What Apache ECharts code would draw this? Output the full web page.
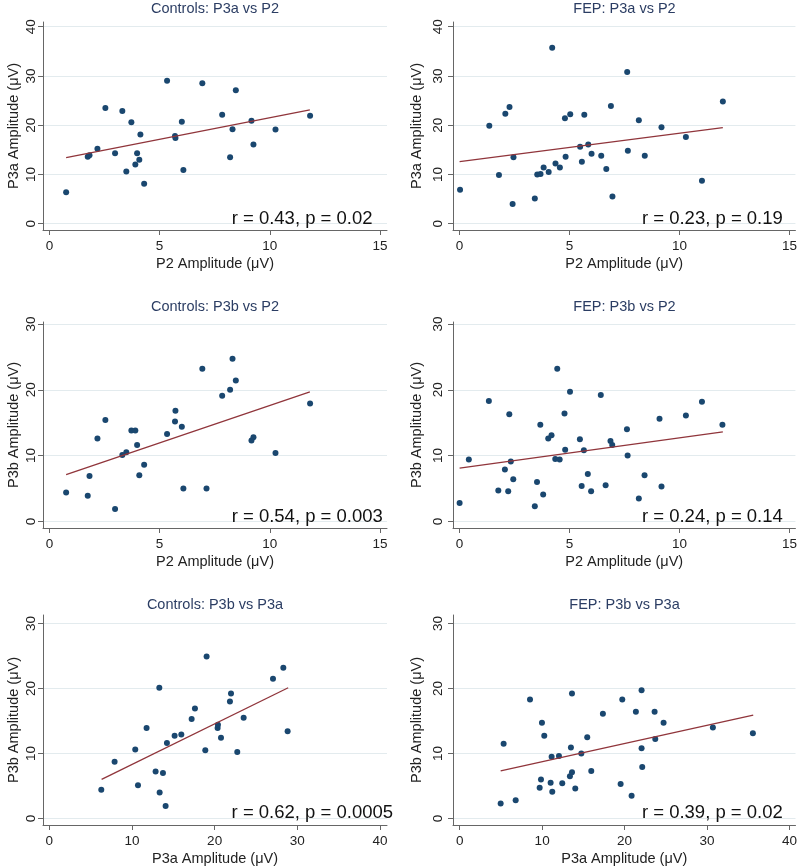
<!DOCTYPE html>
<html><head><meta charset="utf-8">
<script src="https://cdn.jsdelivr.net/npm/echarts@6/dist/echarts.min.js"></script>
<style>html,body{margin:0;padding:0;background:#fff}#c{width:800px;height:867px}</style>
</head><body><div id="c"></div>
<script>
// ---------- text ----------
const panelTitles = ['Controls: P3a vs P2', 'FEP: P3a vs P2', 'Controls: P3b vs P2', 'FEP: P3b vs P2', 'Controls: P3b vs P3a', 'FEP: P3b vs P3a'];
const xNames = ['P2 Amplitude (μV)', 'P2 Amplitude (μV)', 'P2 Amplitude (μV)', 'P2 Amplitude (μV)', 'P3a Amplitude (μV)', 'P3a Amplitude (μV)'];
const yNames = ['P3a Amplitude (μV)', 'P3a Amplitude (μV)', 'P3b Amplitude (μV)', 'P3b Amplitude (μV)', 'P3b Amplitude (μV)', 'P3b Amplitude (μV)'];
const statLabels = ['r = 0.43, p = 0.02', 'r = 0.23, p = 0.19', 'r = 0.54, p = 0.003', 'r = 0.24, p = 0.14', 'r = 0.62, p = 0.0005', 'r = 0.39, p = 0.02'];

// ---------- tick labels ----------
const ticksP2 = [0, 5, 10, 15];
const ticksP3aX = [0, 10, 20, 30, 40];
const ticksP3aY = [0, 10, 20, 30, 40];
const ticksP3bY = [0, 10, 20, 30];

// ---------- Controls: P3a vs P2 ----------
const ctrlP2_a  = [0.76, 1.74, 1.82, 2.18, 2.54, 2.98, 3.31, 3.49, 3.72, 3.98, 3.90, 4.08, 4.13, 4.30, 5.34, 5.70, 5.72, 6.01, 6.08, 6.94, 7.84, 8.20, 8.31, 8.46, 9.17, 9.26, 10.26, 11.83];
const ctrlP3a_a = [6.4, 13.6, 13.9, 15.2, 23.5, 14.3, 22.9, 10.6, 20.6, 14.3, 12.0, 13.0, 18.1, 8.1, 29.0, 17.8, 17.4, 20.7, 10.9, 28.5, 22.1, 13.5, 19.2, 27.1, 20.9, 16.1, 19.1, 21.9];
const fitCtrlP3aP2_x = [0.76, 11.82];
const fitCtrlP3aP2_y = [13.4, 23.1];

// ---------- FEP: P3a vs P2 ----------
const fepP2_a  = [0.02, 1.35, 1.79, 2.08, 2.27, 2.41, 2.45, 3.42, 3.53, 3.68, 3.82, 4.05, 4.21, 4.36, 4.56, 4.79, 4.82, 5.03, 5.48, 5.56, 5.67, 5.85, 6.00, 6.44, 6.67, 6.88, 6.95, 7.62, 7.65, 8.15, 8.42, 9.18, 10.29, 11.02, 11.97];
const fepP3a_a = [6.9, 19.9, 9.9, 22.3, 23.7, 4.0, 13.5, 5.1, 10.0, 10.1, 11.4, 10.5, 35.7, 12.2, 11.4, 21.4, 13.6, 22.2, 15.6, 12.6, 22.1, 16.1, 14.2, 13.8, 11.1, 23.9, 5.5, 30.8, 14.8, 21.0, 13.8, 19.6, 17.6, 8.7, 24.8];
const fitFepP3aP2_x = [0, 11.97];
const fitFepP3aP2_y = [12.6, 19.5];

// ---------- Controls: P3b vs P2 ----------
const ctrlP2_b  = [0.76, 1.74, 1.82, 2.18, 2.54, 2.98, 3.31, 3.49, 3.72, 3.90, 3.98, 4.08, 4.30, 5.34, 5.70, 5.72, 6.01, 6.08, 6.94, 7.13, 7.84, 8.20, 8.31, 8.46, 9.17, 9.26, 10.26, 11.83];
const ctrlP3b_b = [4.4, 3.9, 6.9, 12.6, 15.4, 1.9, 10.1, 10.5, 13.8, 13.8, 11.6, 7.0, 8.6, 13.3, 15.2, 16.8, 14.4, 5.0, 23.2, 5.0, 19.1, 20.0, 24.7, 21.4, 12.3, 12.8, 10.4, 17.9];
const fitCtrlP3bP2_x = [0.76, 11.82];
const fitCtrlP3bP2_y = [7.1, 19.7];

// ---------- FEP: P3b vs P2 ----------
const fepP2_b  = [0, 0.42, 1.33, 1.76, 2.06, 2.21, 2.26, 2.33, 2.44, 3.42, 3.52, 3.67, 3.80, 4.03, 4.18, 4.35, 4.44, 4.55, 4.77, 4.80, 5.02, 5.47, 5.55, 5.65, 5.83, 5.98, 6.42, 6.64, 6.86, 6.94, 7.61, 7.64, 8.15, 8.41, 9.09, 9.18, 10.29, 11.02, 11.95];
const fepP3b_b = [2.8, 9.4, 18.3, 4.7, 7.9, 4.6, 16.3, 9.1, 6.4, 2.3, 6.0, 14.7, 4.1, 12.6, 13.1, 9.5, 23.2, 9.4, 16.4, 10.9, 19.7, 12.5, 5.4, 10.8, 7.2, 4.6, 19.2, 5.5, 12.2, 11.6, 14.0, 10.0, 3.5, 7.0, 15.6, 5.3, 16.1, 18.2, 14.7];
const fitFepP3bP2_x = [0, 11.97];
const fitFepP3bP2_y = [8.1, 13.6];

// ---------- Controls: P3b vs P3a ----------
const ctrlP3a_c = [6.29, 7.90, 10.40, 10.73, 11.77, 12.86, 13.31, 13.35, 13.75, 14.07, 14.23, 15.16, 15.97, 17.22, 17.62, 18.87, 19.03, 20.36, 20.40, 20.77, 21.85, 21.98, 22.74, 23.51, 27.06, 28.31, 28.83];
const ctrlP3b_c = [4.4, 8.7, 10.6, 5.1, 13.9, 7.2, 20.1, 4.0, 7.0, 1.9, 11.6, 12.7, 12.9, 15.3, 16.9, 10.5, 24.9, 13.9, 14.4, 12.4, 18.0, 19.2, 10.2, 15.5, 21.5, 23.2, 13.4];
const fitCtrlP3bP3a_x = [6.33, 28.9];
const fitCtrlP3bP3a_y = [6.0, 20.1];

// ---------- FEP: P3b vs P3a ----------
const fepP3a_c = [4.97, 5.33, 6.79, 8.53, 9.70, 9.86, 9.98, 10.26, 11.03, 11.15, 11.23, 12.04, 12.44, 13.37, 13.49, 13.62, 13.62, 14.02, 14.75, 15.47, 15.96, 17.37, 19.52, 19.72, 20.85, 21.37, 22.06, 22.06, 22.14, 23.64, 23.72, 24.73, 30.71, 35.56];
const fepP3b_c = [2.3, 11.5, 2.8, 18.3, 4.7, 6.0, 14.7, 12.7, 5.5, 9.5, 4.1, 9.6, 5.4, 6.5, 10.9, 19.2, 7.1, 4.6, 10.0, 12.5, 7.3, 16.1, 5.3, 18.3, 3.5, 16.4, 19.7, 10.8, 7.9, 16.4, 12.2, 14.7, 14.0, 13.1];
const fitFepP3bP3a_x = [4.97, 35.6];
const fitFepP3bP3a_y = [7.3, 15.9];

// ---------- assembly ----------
const scatterX = [ctrlP2_a, fepP2_a, ctrlP2_b, fepP2_b, ctrlP3a_c, fepP3a_c];
const scatterY = [ctrlP3a_a, fepP3a_a, ctrlP3b_b, fepP3b_b, ctrlP3b_c, fepP3b_c];
const fitX = [fitCtrlP3aP2_x, fitFepP3aP2_x, fitCtrlP3bP2_x, fitFepP3bP2_x, fitCtrlP3bP3a_x, fitFepP3bP3a_x];
const fitY = [fitCtrlP3aP2_y, fitFepP3aP2_y, fitCtrlP3bP2_y, fitFepP3bP2_y, fitCtrlP3bP3a_y, fitFepP3bP3a_y];
const xTickSets = [ticksP2, ticksP2, ticksP2, ticksP2, ticksP3aX, ticksP3aX];
const yTickSets = [ticksP3aY, ticksP3aY, ticksP3bY, ticksP3bY, ticksP3bY, ticksP3bY];
const statAnchorX = [8.27, 8.29, 8.27, 8.29, 22.05, 22.1];

// layout (pixels) and axis extents
const colLeft = [43, 453], colWidth = [344, 343];
const rowTop = [22, 322, 615], rowHeight = [208, 206, 212];
const titleTop = [1, 299, 597];
const xExt = [[-0.29, 15.32], [-0.3, 15.27], [-0.29, 15.32], [-0.3, 15.27], [-0.76, 40.85], [-0.81, 40.73]];
const yExt = [[-1.28, 40.95], [-1.28, 40.95], [-1.0, 30.3], [-1.0, 30.3], [-1.02, 31.3], [-1.02, 31.3]];

const FONT = '"Liberation Sans", Arial, Helvetica, sans-serif';
const AXIS_COL = '#666666';
const grids = [], xAxes = [], yAxes = [], series = [], titles = [];
for (let i = 0; i < 6; i++) {
  const col = i % 2, row = Math.floor(i / 2);
  grids.push({ left: colLeft[col], top: rowTop[row], width: colWidth[col], height: rowHeight[row], containLabel: false });
  titles.push({
    text: panelTitles[i], left: colLeft[col] + colWidth[col] / 2, top: titleTop[row], textAlign: 'center', padding: 0,
    textStyle: { fontSize: 14.5, fontWeight: 'normal', color: '#2b3d63', fontFamily: FONT }
  });
  xAxes.push({
    gridIndex: i, type: 'value', min: xExt[i][0], max: xExt[i][1],
    name: xNames[i], nameLocation: 'middle', nameGap: 26,
    nameTextStyle: { fontSize: 14.5, color: '#222', fontFamily: FONT },
    axisLine: { onZero: false, lineStyle: { color: AXIS_COL, width: 1 } },
    axisTick: { customValues: xTickSets[i], length: 5, lineStyle: { color: AXIS_COL } },
    axisLabel: { customValues: xTickSets[i], margin: 9, fontSize: 13.5, color: '#222', fontFamily: FONT },
    splitLine: { show: false }
  });
  yAxes.push({
    gridIndex: i, type: 'value', min: yExt[i][0], max: yExt[i][1],
    name: yNames[i], nameLocation: 'middle', nameGap: col === 0 ? 22 : 29,
    nameTextStyle: { fontSize: 14.5, color: '#222', fontFamily: FONT },
    axisLine: { onZero: false, lineStyle: { color: AXIS_COL, width: 1 } },
    axisTick: { customValues: yTickSets[i], length: 5, lineStyle: { color: AXIS_COL } },
    axisLabel: { customValues: yTickSets[i], rotate: 90, margin: col === 0 ? 5 : 8, fontSize: 13.5, color: '#222', fontFamily: FONT },
    splitLine: { show: true, lineStyle: { color: '#e3ebee', width: 1 } }
  });
  series.push({
    type: 'scatter', xAxisIndex: i, yAxisIndex: i, symbolSize: 6, silent: true,
    itemStyle: { color: '#1a476f', opacity: 1 },
    data: scatterX[i].map((x, j) => [x, scatterY[i][j]]), z: 3
  });
  series.push({
    type: 'line', xAxisIndex: i, yAxisIndex: i, symbol: 'none', silent: true,
    lineStyle: { color: '#90353b', width: 1.3 },
    data: fitX[i].map((x, j) => [x, fitY[i][j]]), z: 4
  });
}

const chart = echarts.init(document.getElementById('c'), null, { renderer: 'canvas' });
chart.setOption({
  animation: false, backgroundColor: '#ffffff',
  textStyle: { fontFamily: FONT },
  title: titles, grid: grids, xAxis: xAxes, yAxis: yAxes, series: series
});

const graphics = [];
for (let i = 0; i < 6; i++) {
  const p = chart.convertToPixel({ gridIndex: i }, [statAnchorX[i], 0]);
  graphics.push({
    type: 'text', x: p[0], y: p[1] - 5, z: 10,
    style: { text: statLabels[i], fill: '#111', font: '18.5px ' + FONT, align: 'left', verticalAlign: 'middle' }
  });
}
chart.setOption({ graphic: graphics });
</script>
</body></html>
